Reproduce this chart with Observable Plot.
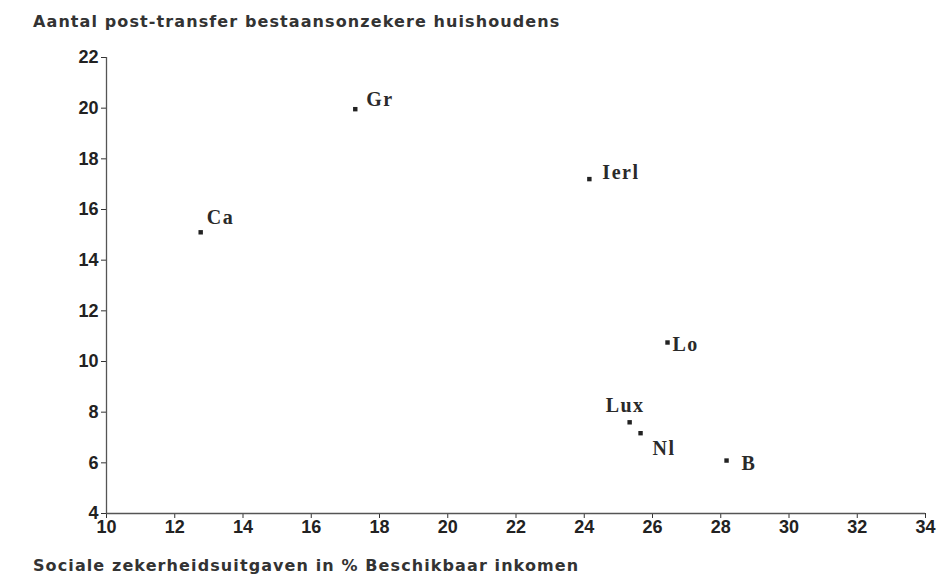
<!DOCTYPE html>
<html>
<head>
<meta charset="utf-8">
<script src="https://cdn.jsdelivr.net/npm/d3@7"></script>
<script src="https://cdn.jsdelivr.net/npm/@observablehq/plot@0.6"></script>
<style>
  html, body { margin: 0; padding: 0; background: #fff; overflow: hidden; }
  .ttl { font-family: "DejaVu Sans", sans-serif; font-weight: bold; font-size: 16px; color: #333; padding-left: 33px; letter-spacing: 1.1px; white-space: nowrap; }
  #title { height: 44px; line-height: 44px; }
  #xlabel { margin-top: 11px; height: 22px; line-height: 22px; }
</style>
</head>
<body>
<div id="title" class="ttl">Aantal post-transfer bestaansonzekere huishoudens</div>
<div id="chart"></div>
<div id="xlabel" class="ttl">Sociale zekerheidsuitgaven in % Beschikbaar inkomen</div>
<script>
const countries = ["Ca", "Gr", "Ierl", "Lo", "Lux", "Nl", "B"];
const socialSpending = [12.76, 17.29, 24.15, 26.44, 25.33, 25.65, 28.17];
const poorHouseholds = [15.1, 19.96, 17.2, 10.75, 7.6, 7.17, 6.09];
const xTicks = [10, 12, 14, 16, 18, 20, 22, 24, 26, 28, 30, 32, 34];
const yTicks = [4, 6, 8, 10, 12, 14, 16, 18, 20, 22];

// label placement (layout only)
const labelOffsets = {
  Ca: [6, -15], Gr: [11, -10], Ierl: [13, -7], Lo: [5, 2],
  Lux: [-24, -17], Nl: [12, 15], B: [15, 3]
};

const data = countries.map((c, i) => ({country: c, x: socialSpending[i], y: poorHouseholds[i]}));

const labelMarks = data.map(d => Plot.text([d], {
  x: "x", y: "y", text: "country",
  dx: labelOffsets[d.country][0], dy: labelOffsets[d.country][1],
  textAnchor: "start", fontFamily: "'Liberation Serif', serif",
  fontSize: 20, fontWeight: "bold", fill: "#2a2a2a"
}));

const chart = Plot.plot({
  width: 943,
  height: 500,
  marginTop: 13,
  marginBottom: 31,
  marginLeft: 106,
  marginRight: 18,
  style: {fontFamily: "'Liberation Sans', Arial, sans-serif", color: "#333", background: "#fff", overflow: "visible"},
  x: {domain: [10, 34]},
  y: {domain: [4, 22]},
  marks: [
    Plot.axisX(xTicks, {tickSize: 5, tickPadding: 2, fontSize: 18, fontWeight: "bold", fill: "#222", label: null, tickFormat: d => String(d)}),
    Plot.axisY(yTicks, {tickSize: 5, tickPadding: 3, fontSize: 18, fontWeight: "bold", fill: "#222", label: null, tickFormat: d => String(d)}),
    Plot.ruleX([10], {y1: 4, y2: 22, stroke: "#555", strokeWidth: 1.3}),
    Plot.ruleY([4], {x1: 10, x2: 34, stroke: "#555", strokeWidth: 1.3}),
    Plot.dot(data, {x: "x", y: "y", symbol: "square", r: 2.5, fill: "#222", stroke: null}),
    ...labelMarks
  ]
});
// widen the serif point labels slightly like the scanned original
d3.select(chart).selectAll("text").filter(function() {
  return (this.getAttribute("font-family") || this.parentNode.getAttribute("font-family") || "").includes("Serif");
}).style("letter-spacing", "1.5px");
document.getElementById("chart").appendChild(chart);
</script>
</body>
</html>
